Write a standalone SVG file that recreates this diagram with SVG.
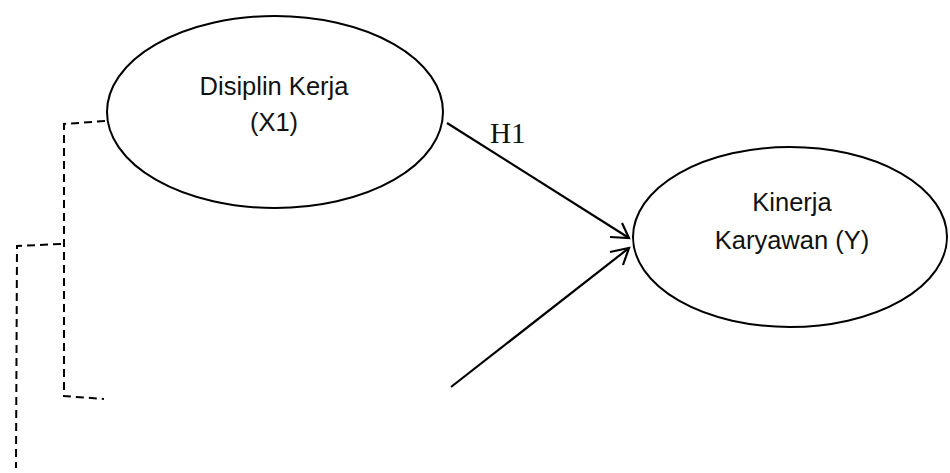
<svg xmlns="http://www.w3.org/2000/svg" width="950" height="473" viewBox="0 0 950 473">
<style>
.node{fill:#fff;stroke:#000;stroke-width:2}
.lbl{font-family:"Liberation Sans",Arial,sans-serif;font-size:25.5px;fill:#111;text-anchor:middle}
.h{font-family:"Liberation Serif","Times New Roman",serif;font-size:29px;fill:#111}
.arr{fill:none;stroke:#000;stroke-width:2.2}
.dash{fill:none;stroke:#000;stroke-width:2;stroke-dasharray:8 5}
</style>
<rect width="950" height="473" fill="#fff"/>
<g id="connectors">
<line class="arr" x1="447" y1="123" x2="629" y2="238"/>
<polyline class="arr" points="610,237 629,238 622,223"/>
<line class="arr" x1="451" y1="387" x2="629" y2="248"/>
<polyline class="arr" points="610,252 629,248 623,265"/>
<polyline class="dash" points="105,121 64,124 64,396 104,399"/>
<polyline class="dash" points="61,244 17,246 16,468"/>
</g>
<g id="x1">
<ellipse class="node" cx="275" cy="112" rx="168" ry="96"/>
<text class="lbl" x="274" y="95">Disiplin Kerja</text>
<text class="lbl" x="274" y="131">(X1)</text>
</g>
<g id="y">
<ellipse class="node" cx="790" cy="237" rx="157" ry="90"/>
<text class="lbl" x="792" y="211">Kinerja</text>
<text class="lbl" x="792" y="249">Karyawan (Y)</text>
</g>
<g id="h1label">
<text class="h" x="490" y="143">H1</text>
</g>
</svg>
